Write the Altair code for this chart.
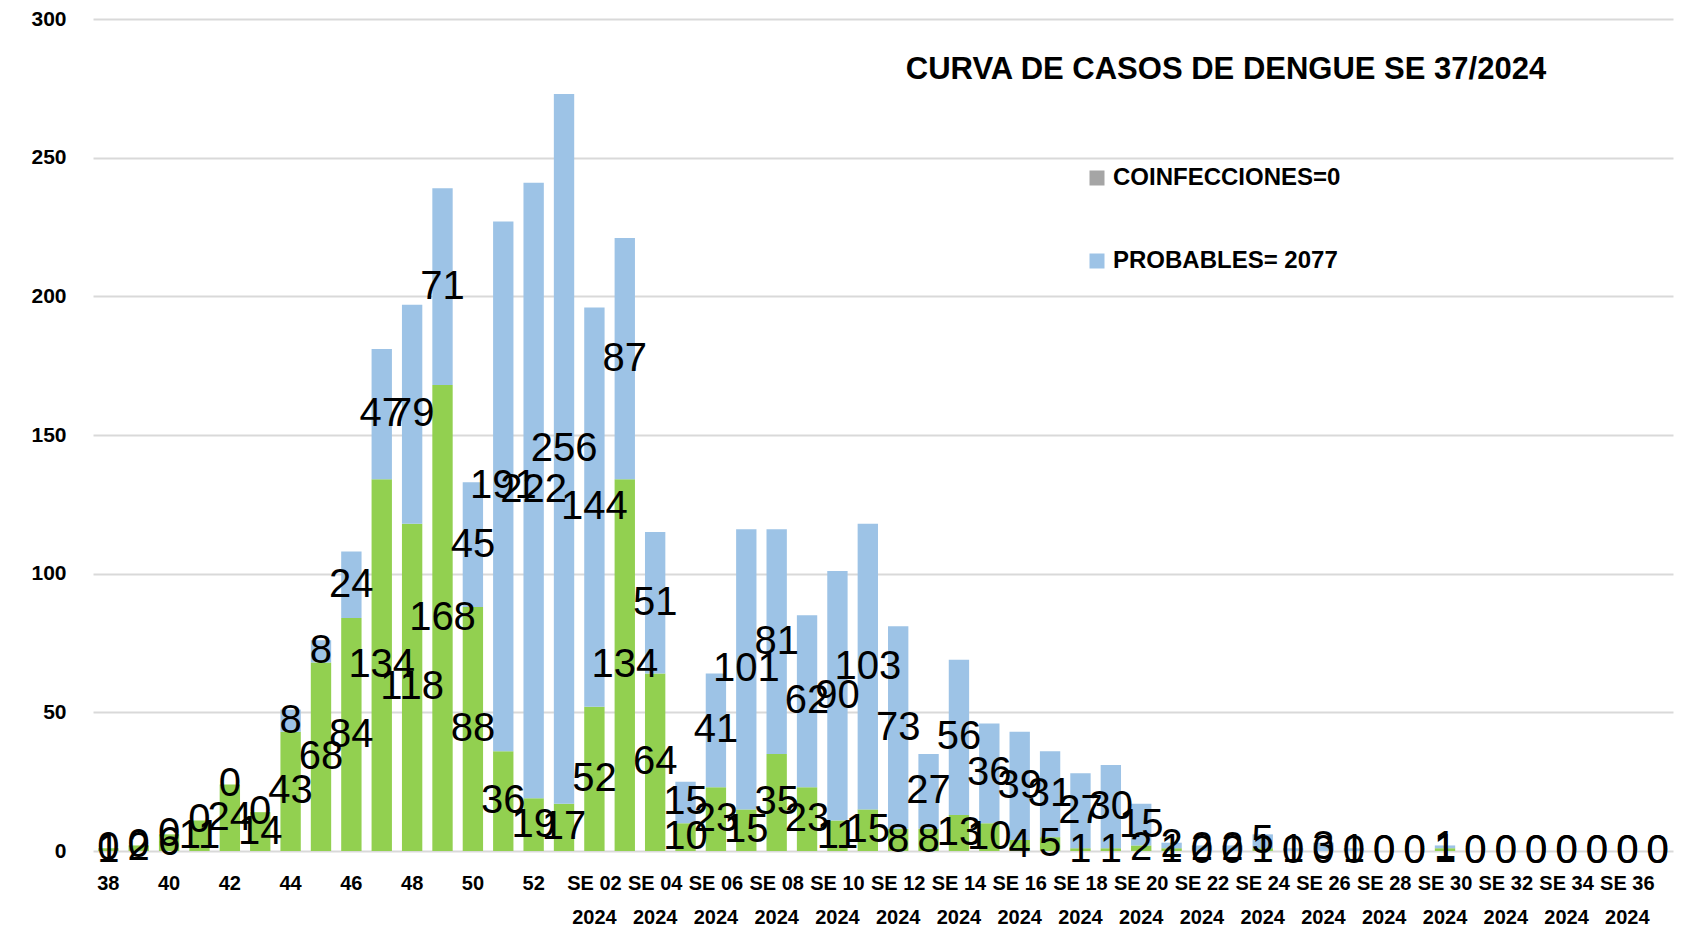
import altair as alt
import pandas as pd

semanas = ["38", "39", "40", "41", "42", "43", "44", "45", "46", "47", "48", "49", "50", "51", "52",
           "SE 01 2024", "SE 02 2024", "SE 03 2024", "SE 04 2024", "SE 05 2024", "SE 06 2024",
           "SE 07 2024", "SE 08 2024", "SE 09 2024", "SE 10 2024", "SE 11 2024", "SE 12 2024",
           "SE 13 2024", "SE 14 2024", "SE 15 2024", "SE 16 2024", "SE 17 2024", "SE 18 2024",
           "SE 19 2024", "SE 20 2024", "SE 21 2024", "SE 22 2024", "SE 23 2024", "SE 24 2024",
           "SE 25 2024", "SE 26 2024", "SE 27 2024", "SE 28 2024", "SE 29 2024", "SE 30 2024",
           "SE 31 2024", "SE 32 2024", "SE 33 2024", "SE 34 2024", "SE 35 2024", "SE 36 2024",
           "SE 37 2024"]

confirmados = [1, 2, 6, 11, 24, 14, 43, 68, 84, 134, 118, 168, 88, 36, 19,
               17, 52, 134, 64, 10, 23, 15, 35, 23, 11, 15, 8, 8, 13, 10, 4, 5, 1, 1, 2,
               1, 0, 0, 1, 0, 0, 0, 0, 0, 1, 0, 0, 0, 0, 0, 0, 0]

coinfecciones = [0, 0, 0, 0, 0, 0, 0, 0, 0, 0, 0, 0, 0, 0, 0,
                 0, 0, 0, 0, 0, 0, 0, 0, 0, 0, 0, 0, 0, 0, 0, 0, 0, 0, 0, 0,
                 0, 0, 0, 0, 0, 0, 0, 0, 0, 0, 0, 0, 0, 0, 0, 0, 0]

probables = [0, 0, 0, 0, 0, 0, 8, 8, 24, 47, 79, 71, 45, 191, 222,
             256, 144, 87, 51, 15, 41, 101, 81, 62, 90, 103, 73, 27, 56, 36, 39, 31, 27, 30, 15,
             2, 2, 2, 5, 1, 3, 1, 0, 0, 1, 0, 0, 0, 0, 0, 0, 0]

etiquetas_x = ["38", "40", "42", "44", "46", "48", "50", "52",
               "SE 02 2024", "SE 04 2024", "SE 06 2024", "SE 08 2024", "SE 10 2024",
               "SE 12 2024", "SE 14 2024", "SE 16 2024", "SE 18 2024", "SE 20 2024",
               "SE 22 2024", "SE 24 2024", "SE 26 2024", "SE 28 2024", "SE 30 2024",
               "SE 32 2024", "SE 34 2024", "SE 36 2024"]

series = ["CONFIRMADOS", "COINFECCIONES=0", "PROBABLES= 2077"]
colores = ["#92D050", "#A5A5A5", "#9DC3E6"]
titulo = "CURVA DE CASOS DE DENGUE SE 37/2024"

rows = []
for i, s in enumerate(semanas):
    c, g, p = confirmados[i], coinfecciones[i], probables[i]
    rows.append(dict(semana=s, serie=series[0], orden=0, valor=c, y0=0, y1=c, ymid=c / 2, label=True))
    rows.append(dict(semana=s, serie=series[1], orden=1, valor=g, y0=c, y1=c + g, ymid=c + g / 2, label=False))
    rows.append(dict(semana=s, serie=series[2], orden=2, valor=p, y0=c + g, y1=c + g + p, ymid=c + g + p / 2, label=True))
df = pd.DataFrame(rows)

fuente = "Liberation Sans, Arial"

x_enc = alt.X("semana:N", sort=semanas, title=None,
              scale=alt.Scale(paddingInner=0.33, paddingOuter=0.17),
              axis=alt.Axis(values=etiquetas_x, labelAngle=0, ticks=False, domain=False,
                            labelFont=fuente, labelFontWeight="bold", labelFontSize=20,
                            labelColor="#000000", labelPadding=22, labelLineHeight=34,
                            labelOverlap=False, labelFlush=False,
                            labelExpr="length(datum.label) > 3 ? [substring(datum.label, 0, 5), substring(datum.label, 6)] : datum.label"))

bars = alt.Chart(df).mark_bar().encode(
    x=x_enc,
    y=alt.Y("y0:Q", title=None, scale=alt.Scale(domain=[0, 300]),
            axis=alt.Axis(values=[0, 50, 100, 150, 200, 250, 300], ticks=False, domain=False,
                          gridColor="#D9D9D9", gridWidth=2,
                          labelFont=fuente, labelFontWeight="bold", labelFontSize=21,
                          labelColor="#000000", labelPadding=27)),
    y2="y1:Q",
    color=alt.Color("serie:N", scale=alt.Scale(domain=series, range=colores),
                    legend=alt.Legend(values=series[1:], title=None, orient="none",
                                      legendX=992, legendY=147, symbolType="square",
                                      symbolSize=225, symbolStrokeWidth=0, symbolOpacity=1,
                                      labelFont=fuente, labelFontWeight="bold", labelFontSize=24,
                                      labelColor="#000000", labelOffset=4, rowPadding=59,
                                      labelLimit=400)),
    order="orden:Q",
)

labels = alt.Chart(df).transform_filter("datum.label").mark_text(
    font=fuente, fontSize=40, color="#000000", baseline="middle", align="center"
).encode(
    x=alt.X("semana:N", sort=semanas),
    y=alt.Y("ymid:Q"),
    text=alt.Text("valor:Q"),
)

chart = alt.layer(bars, labels).properties(
    width=1580, height=832,
    autosize=alt.AutoSizeParams(type="none"),
    padding={"left": 85, "top": 11, "right": 10, "bottom": 77},
    title=alt.TitleParams(titulo, font=fuente, fontWeight="bold", fontSize=31, color="#000000",
                          anchor="middle", dx=343, dy=78, offset=0),
).configure_view(stroke=None)

chart.save("out.html", embed_options={"renderer": "svg", "actions": False})
